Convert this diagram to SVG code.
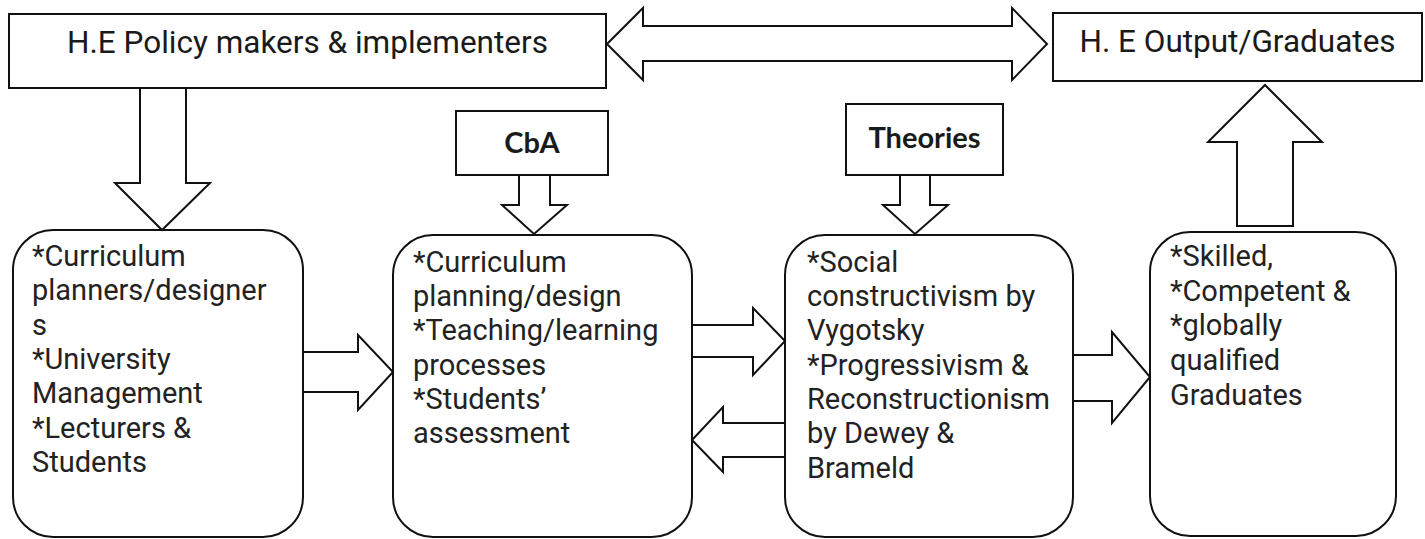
<svg xmlns="http://www.w3.org/2000/svg" width="1425" height="539" viewBox="0 0 1425 539">
<style>
.box{fill:#fff;stroke:#111;stroke-width:2}
.arr{fill:#fff;stroke:#111;stroke-width:2;stroke-linejoin:miter}
.title{font-family:Roboto,"Liberation Sans",sans-serif;font-size:31.5px;fill:#1a1a1a}
.body{font-family:Roboto,"Liberation Sans",sans-serif;font-size:29px;fill:#222}
.bold{font-family:Lato,"Liberation Sans",sans-serif;font-weight:bold;font-size:29px;fill:#1a1a1a}
</style>
<rect width="1425" height="539" fill="#fff"/>
<g id="policy">
<rect class="box" x="9" y="14" width="597" height="74"/>
<text class="title" x="307.5" y="53" text-anchor="middle">H.E Policy makers &amp; implementers</text>
</g>
<g id="output">
<rect class="box" x="1053" y="13" width="369" height="68"/>
<text class="title" x="1237.5" y="52" text-anchor="middle">H. E Output/Graduates</text>
</g>
<g id="cba">
<rect class="box" x="456" y="111" width="152" height="64"/>
<text class="bold" x="532" y="153" text-anchor="middle">CbA</text>
</g>
<g id="theories">
<rect class="box" x="846" y="104" width="157" height="71"/>
<text class="bold" x="924.5" y="148" text-anchor="middle">Theories</text>
</g>
<g id="stakeholders">
<rect class="box" x="13" y="230" width="290" height="307" rx="40" ry="40"/>
<text class="body" x="32">
<tspan x="32" y="266">*Curriculum</tspan>
<tspan x="32" y="300">planners/designer</tspan>
<tspan x="32" y="335">s</tspan>
<tspan x="32" y="369">*University</tspan>
<tspan x="32" y="403">Management</tspan>
<tspan x="32" y="438">*Lecturers &amp;</tspan>
<tspan x="32" y="472">Students</tspan>
</text>
</g>
<g id="processes">
<rect class="box" x="393" y="235" width="299" height="302" rx="40" ry="40"/>
<text class="body">
<tspan x="413" y="272">*Curriculum</tspan>
<tspan x="413" y="306">planning/design</tspan>
<tspan x="413" y="340">*Teaching/learning</tspan>
<tspan x="413" y="375">processes</tspan>
<tspan x="413" y="409">*Students’</tspan>
<tspan x="413" y="443">assessment</tspan>
</text>
</g>
<g id="theorylist">
<rect class="box" x="785" y="235" width="288" height="302" rx="40" ry="40"/>
<text class="body">
<tspan x="807" y="272">*Social</tspan>
<tspan x="807" y="306">constructivism by</tspan>
<tspan x="807" y="340">Vygotsky</tspan>
<tspan x="807" y="375">*Progressivism &amp;</tspan>
<tspan x="807" y="409">Reconstructionism</tspan>
<tspan x="807" y="443">by Dewey &amp;</tspan>
<tspan x="807" y="478">Brameld</tspan>
</text>
</g>
<g id="graduates">
<rect class="box" x="1150" y="232" width="246" height="304" rx="40" ry="40"/>
<text class="body">
<tspan x="1170" y="266">*Skilled,</tspan>
<tspan x="1170" y="301">*Competent &amp;</tspan>
<tspan x="1170" y="335">*globally</tspan>
<tspan x="1170" y="370">qualified</tspan>
<tspan x="1170" y="405">Graduates</tspan>
</text>
</g>
<g id="connectors">
<polygon class="arr" points="607,44 643,8 643,26 1012,26 1012,8 1047,44 1012,80 1012,61 643,61 643,80"/>
<polygon class="arr" points="140,88 186,88 186,183 210,183 162,230 115,183 140,183"/>
<polygon class="arr" points="519,175 550,175 550,205 567,205 534,234 502,205 519,205"/>
<polygon class="arr" points="900,175 930,175 930,205 948,205 915,234 883,205 900,205"/>
<polygon class="arr" points="1237,226 1293,226 1293,142 1322,142 1265,85 1208,142 1237,142"/>
<polygon class="arr" points="303,352 358,352 358,335 393,372 358,410 358,392 303,392"/>
<polygon class="arr" points="692,325 753,325 753,308 785,341 753,375 753,357 692,357"/>
<polygon class="arr" points="785,423 723,423 723,407 692,440 723,472 723,457 785,457"/>
<polygon class="arr" points="1073,355 1112,355 1112,332 1150,377 1112,423 1112,401 1073,401"/>
</g>
</svg>
